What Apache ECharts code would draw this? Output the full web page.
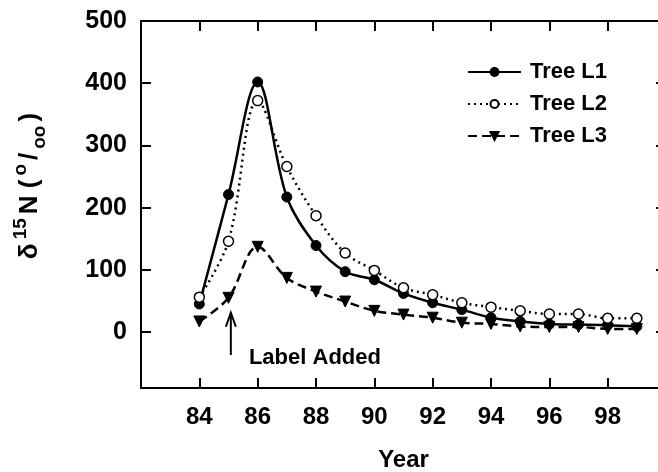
<!DOCTYPE html>
<html>
<head>
<meta charset="utf-8">
<script src="https://cdn.jsdelivr.net/npm/echarts@6/dist/echarts.min.js"></script>
<style>
html,body{margin:0;padding:0;background:#fff;}
#c{width:658px;height:472px;}
</style>
</head>
<body>
<div id="c"></div>
<script>
var years = [84, 85, 86, 87, 88, 89, 90, 91, 92, 93, 94, 95, 96, 97, 98, 99];
var treeL1 = [45, 221, 402, 217, 139, 97, 84, 62, 47, 36, 23, 17, 13, 12, 11, 9];
var treeL2 = [56, 146, 372, 266, 187, 127, 99, 71, 60, 47, 40, 34, 29, 29, 22, 22];
var treeL3 = [17, 55, 137, 87, 65, 49, 34, 28, 23, 15, 13, 9, 8, 8, 5, 5];
var yTicks = [0, 100, 200, 300, 400, 500];
var seriesNames = ['Tree L1', 'Tree L2', 'Tree L3'];
var annotationText = 'Label Added';
var annotationYear = 85;

var FONT = 'Liberation Sans, Arial, sans-serif';
function pairs(vals){ return years.map(function(y,i){ return [y, vals[i]]; }); }

var chart = echarts.init(document.getElementById('c'));
var axisLine = {show:true, onZero:false, lineStyle:{color:'#000', width:2}};
var tick = {show:true, inside:true, length:10, lineStyle:{color:'#000', width:2}};
var option = {
  backgroundColor:'#fff',
  animation:false,
  grid:{left:141, top:21, right:-8, bottom:84, containLabel:false, outerBoundsMode:'none'},
  xAxis:[{
    type:'value', min:82, max:100, interval:2,
    axisLine:axisLine, axisTick:tick,
    axisLabel:{margin:17, color:'#000', fontSize:24, fontWeight:'bold', fontFamily:FONT,
      formatter:function(v){ return (v===82||v===100)?'':String(v); }},
    splitLine:{show:false},
    name:'Year', nameLocation:'middle', nameGap:60,
    nameTextStyle:{color:'#000', fontSize:24, fontWeight:'bold', fontFamily:FONT}
  },{
    type:'value', position:'top', min:82, max:100, interval:2,
    axisLine:axisLine, axisTick:tick,
    axisLabel:{show:false}, splitLine:{show:false}
  }],
  yAxis:[{
    type:'value', min:-90, max:500,
    axisLine:axisLine,
    axisTick:{show:true, inside:true, length:10, customValues:yTicks, lineStyle:{color:'#000', width:2}},
    axisLabel:{margin:14, color:'#000', fontSize:25, fontWeight:'bold', fontFamily:FONT, customValues:yTicks},
    splitLine:{show:false}
  },{
    type:'value', position:'right', min:-90, max:500,
    axisLine:axisLine,
    axisTick:{show:true, inside:true, length:10, customValues:yTicks, lineStyle:{color:'#000', width:2}},
    axisLabel:{show:false}, splitLine:{show:false}
  }],
  legend:{
    orient:'vertical', left:462, top:56, itemGap:10, itemWidth:53, itemHeight:10,
    data:seriesNames,
    textStyle:{color:'#000', fontSize:22, fontWeight:'bold', fontFamily:FONT, padding:[0,0,0,4]}
  },
  series:[{
    name:seriesNames[0], type:'line', data:pairs(treeL1), smooth:0.35,
    symbol:'circle', symbolSize:10,
    lineStyle:{color:'#000', width:2.5, type:'solid'},
    itemStyle:{color:'#000', borderColor:'#000', borderWidth:1}
  },{
    name:seriesNames[1], type:'line', data:pairs(treeL2), smooth:0.35,
    symbol:'circle', symbolSize:10,
    lineStyle:{color:'#000', width:2.5, type:[2,4]},
    itemStyle:{color:'#fff', borderColor:'#000', borderWidth:1.5}
  },{
    name:seriesNames[2], type:'line', data:pairs(treeL3), smooth:0.35,
    symbol:'triangle', symbolRotate:180, symbolSize:11,
    lineStyle:{color:'#000', width:2.5, type:[9,5]},
    itemStyle:{color:'#000', borderColor:'#000', borderWidth:1}
  }]
};
chart.setOption(option);

var tip = chart.convertToPixel({gridIndex:0}, [annotationYear + 0.08, 31]);
var tail = chart.convertToPixel({gridIndex:0}, [annotationYear + 0.08, -37]);
var txt = chart.convertToPixel({gridIndex:0}, [annotationYear + 0.7, -41]);
chart.setOption({
  graphic:[
    {type:'line', shape:{x1:tip[0], y1:tip[1], x2:tail[0], y2:tail[1]}, style:{stroke:'#000', lineWidth:2}},
    {type:'polyline', shape:{points:[[tip[0]-5, tip[1]+14],[tip[0], tip[1]],[tip[0]+5, tip[1]+14]]}, style:{stroke:'#000', lineWidth:2, fill:null}},
    {type:'text', x:txt[0], y:txt[1], style:{text:annotationText, fill:'#000', font:'bold 22px ' + FONT, align:'left', verticalAlign:'middle'}},
    {type:'text', x:30, y:186, rotation:Math.PI/2,
      style:{
        text:'{m|δ}{s|15}{m|N (}{s|o}{m|/}{d|oo}{m|)}',
        align:'center', verticalAlign:'middle', fill:'#000',
        rich:{
          m:{fontSize:26, fontWeight:'bold', fontFamily:FONT, fill:'#000', lineHeight:38, verticalAlign:'middle', padding:[0,2,0,2]},
          s:{fontSize:19, fontWeight:'bold', fontFamily:FONT, fill:'#000', verticalAlign:'top', padding:[0,2,0,2]},
          d:{fontSize:19, fontWeight:'bold', fontFamily:FONT, fill:'#000', verticalAlign:'bottom', padding:[0,2,0,2]}
        }
      }}
  ]
});
</script>
</body>
</html>
